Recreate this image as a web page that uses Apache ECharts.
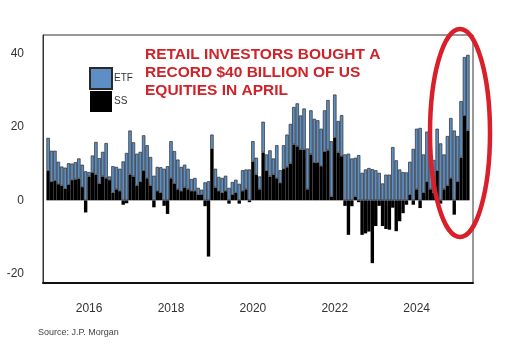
<!DOCTYPE html>
<html>
<head>
<meta charset="utf-8">
<script src="https://cdn.jsdelivr.net/npm/echarts@6/dist/echarts.min.js"></script>
<style>
html,body{margin:0;padding:0;background:#fff}
#main{width:508px;height:354px}
</style>
</head>
<body>
<div id="main"></div>
<script>
// monthly retail flows, $bn (single stocks = SS, ETF on top)
var ss2015 = [8.0, 5.0, 5.3, 4.4, 4.0, 3.1, 4.2, 5.5, 5.7, 5.9, 3.6, -3.3];
var ss2016 = [6.5, 7.5, 7.0, 4.5, 6.5, 6.0, 5.5, 2.0, 3.0, 2.5, -1.2, -0.8];
var ss2017 = [7.0, 6.5, 4.0, 5.0, 8.0, 6.0, 4.0, -1.9, 2.5, 2.0, -1.5, -3.7];
var ss2018 = [6.0, 4.5, 3.0, 2.5, 3.5, 3.0, 2.5, 2.5, 1.5, 1.5, -1.6, -15.3];
var ss2019 = [14.0, 3.5, 2.5, 2.0, 2.5, -0.9, 1.5, 2.0, -0.9, 2.5, 3.0, -0.5];
var ss2020 = [10.5, 7.0, 3.0, 13.0, 8.0, 6.5, 7.0, 6.0, 4.7, 8.5, 9.0, 10.0];
var ss2021 = [15.2, 14.7, 13.8, 13.8, 3.0, 12.5, 10.2, 10.2, 9.3, 13.2, 13.6, 1.0];
var ss2022 = [17.0, 13.0, 12.0, -1.5, -9.4, -1.6, 1.0, -0.5, -9.4, -9.0, -8.5, -17.1];
var ss2023 = [-7.0, -1.5, -7.0, -7.8, -8.0, -2.0, -8.4, -5.7, -3.5, -1.2, 1.5, -1.2];
var ss2024 = [3.0, -2.1, 2.0, 5.0, 3.0, 2.0, 8.0, -0.9, 3.0, 4.0, 6.0, -3.9];
var ss2025 = [5.0, 11.6, 23.0, 19.0];

var etf2015 = [9.0, 8.5, 8.2, 6.1, 5.2, 5.8, 5.9, 4.5, 4.7, 5.5, 6.1, 7.9];
var etf2016 = [1.2, 4.7, 8.9, 7.0, 6.7, 9.6, 1.0, 7.3, 6.1, 6.1, 10.6, 12.9];
var etf2017 = [12.0, 9.3, 8.7, 8.2, 9.7, 9.0, 7.8, 6.7, 6.6, 7.0, 8.6, 9.3];
var etf2018 = [10.1, 8.9, 8.1, 6.6, 6.2, 5.6, 3.3, 3.6, 1.9, 1.4, 4.9, 5.2];
var etf2019 = [3.9, 5.1, 3.9, 4.1, 4.2, 3.4, 3.5, 3.6, 4.5, 5.7, 5.4, 8.4];
var etf2020 = [5.6, 4.6, 3.5, 8.4, 4.5, 7.1, 4.4, 9.0, 3.5, 6.5, 8.9, 10.8];
var etf2021 = [10.2, 11.7, 9.3, 11.2, 11.1, 12.0, 12.0, 11.6, 10.2, 11.3, 13.7, 15.1];
var etf2022 = [11.8, 8.6, 11.2, 12.5, 12.7, 11.4, 10.6, 12.3, 7.5, 8.4, 8.8, 8.5];
var etf2023 = [8.2, 7.5, 4.6, 7.0, 7.0, 14.5, 10.9, 8.4, 7.7, 7.6, 9.0, 14.0];
var etf2024 = [16.5, 19.7, 10.5, 13.7, 10.5, 9.0, 11.5, 15.5, 9.5, 13.5, 16.4, 19.0];
var etf2025 = [12.5, 15.4, 16.0, 20.6];

var yTicks = [-20, 0, 20, 40];
var yearLabels = ['2016', '2018', '2020', '2022', '2024'];

// one empty month either side (Dec 2014 .. May 2025)
var months = [];
for (var y = 2014; y <= 2025; y++) {
    for (var m = 1; m <= 12; m++) {
        if (y == 2014 && m < 12) continue;
        if (y == 2025 && m > 5) continue;
        months.push(y + '-' + (m < 10 ? '0' + m : m));
    }
}

var ssData = [null].concat(ss2015, ss2016, ss2017, ss2018, ss2019, ss2020,
    ss2021, ss2022, ss2023, ss2024, ss2025, [null]);
var etfData = [null].concat(etf2015, etf2016, etf2017, etf2018, etf2019, etf2020,
    etf2021, etf2022, etf2023, etf2024, etf2025, [null]);

function isYearTick(idx, val) {
    return yearLabels.indexOf(val.slice(0, 4)) >= 0 && val.slice(5) == '01';
}

var myChart = echarts.init(document.getElementById('main'));
var option = {
    animation: false,
    textStyle: {fontFamily: 'Liberation Sans, Arial, sans-serif'},
    grid: {left: 43, right: 35, top: 35, bottom: 71, show: true, borderColor: '#333', borderWidth: 1},
    legend: {
        data: ['ETF', 'SS'],
        orient: 'vertical',
        left: 84, top: 62,
        itemWidth: 22, itemHeight: 21, itemGap: 1,
        icon: 'rect',
        textStyle: {fontSize: 10, color: '#333', padding: [0, 0, 0, -3]}
    },
    xAxis: {
        type: 'category',
        data: months,
        axisLine: {onZero: false, lineStyle: {color: '#111', width: 2}},
        axisTick: {inside: true, length: 9, alignWithLabel: true, interval: isYearTick, lineStyle: {color: '#333'}},
        axisLabel: {interval: isYearTick, formatter: function (v) { return v.slice(0, 4); },
            fontSize: 12, color: '#333', margin: 20},
        splitLine: {show: false}
    },
    yAxis: {
        type: 'value',
        min: -22.5, max: 45,
        axisLine: {show: true, lineStyle: {color: '#333'}},
        axisTick: {inside: true, length: 8, customValues: yTicks, lineStyle: {color: '#333'}},
        axisLabel: {customValues: yTicks, fontSize: 12, color: '#333', margin: 19},
        splitLine: {show: false}
    },
    series: [
        {name: 'SS', type: 'bar', stack: 'flow', data: ssData, barCategoryGap: '0%',
            itemStyle: {color: '#000', borderColor: '#000', borderWidth: 0}},
        {name: 'ETF', type: 'bar', stack: 'flow', data: etfData, barCategoryGap: '0%',
            itemStyle: {color: '#5e8fc4', borderColor: '#2a2a2a', borderWidth: 0.7}}
    ],
    graphic: [
        {type: 'text', left: 145, top: 46, z: 100,
            style: {text: 'RETAIL INVESTORS BOUGHT A\nRECORD $40 BILLION OF US\nEQUITIES IN APRIL',
                fill: '#cf2229', fontSize: 15.5, fontWeight: 'bold', lineHeight: 18,
                fontFamily: 'Liberation Sans, Arial, sans-serif'}},
        {type: 'ellipse', z: 100, shape: {cx: 460, cy: 133, rx: 30, ry: 104},
            style: {fill: 'none', stroke: '#d9202a', lineWidth: 4.5}},
        {type: 'text', left: 38, top: 328, z: 100,
            style: {text: 'Source: J.P. Morgan', fill: '#444', fontSize: 9,
                fontFamily: 'Liberation Sans, Arial, sans-serif'}}
    ]
};
myChart.setOption(option);
</script>
</body>
</html>
